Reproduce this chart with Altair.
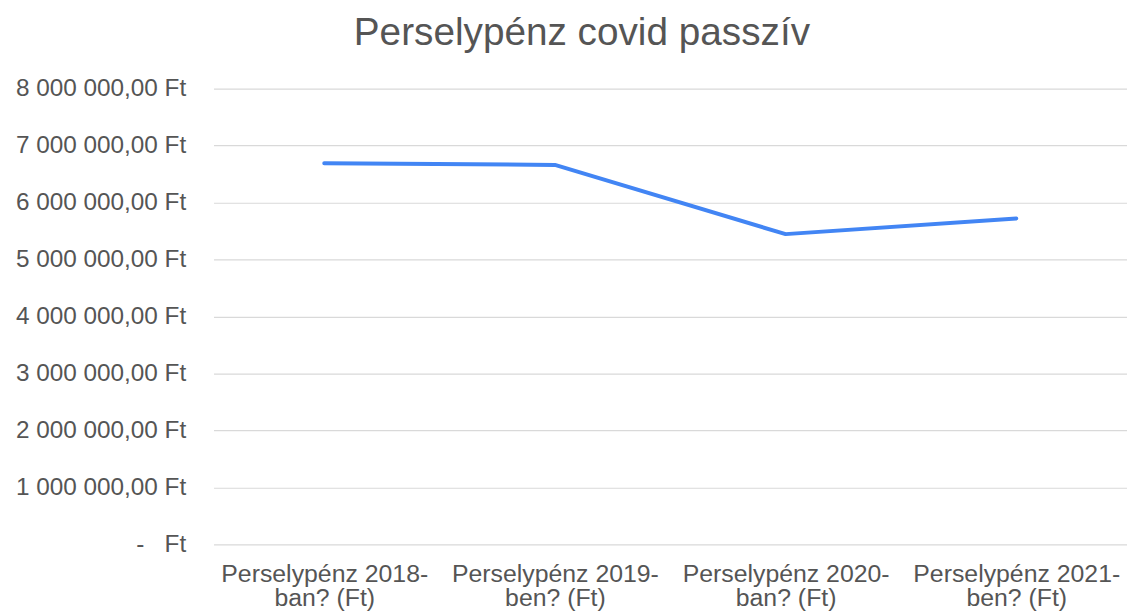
import altair as alt
import pandas as pd

# ---- data ----
categories = [
    "Perselypénz 2018-ban? (Ft)",
    "Perselypénz 2019-ben? (Ft)",
    "Perselypénz 2020-ban? (Ft)",
    "Perselypénz 2021-ben? (Ft)",
]
x_label_lines = [
    ["Perselypénz 2018-", "ban? (Ft)"],
    ["Perselypénz 2019-", "ben? (Ft)"],
    ["Perselypénz 2020-", "ban? (Ft)"],
    ["Perselypénz 2021-", "ben? (Ft)"],
]
values = [6690000, 6660000, 5445000, 5720000]

y_ticks = [0, 1000000, 2000000, 3000000, 4000000, 5000000, 6000000, 7000000, 8000000]
y_tick_labels = [
    "-\u00a0\u00a0\u00a0Ft",
    "1 000 000,00 Ft",
    "2 000 000,00 Ft",
    "3 000 000,00 Ft",
    "4 000 000,00 Ft",
    "5 000 000,00 Ft",
    "6 000 000,00 Ft",
    "7 000 000,00 Ft",
    "8 000 000,00 Ft",
]

title_text = "Perselypénz covid passzív"

df = pd.DataFrame({"cat": categories, "value": values})

# label expressions built from the lists
y_expr = "".join(
    f"datum.value == {v} ? '{lab}' : " for v, lab in zip(y_ticks, y_tick_labels)
) + "''"
x_expr = "".join(
    f"datum.label == '{c}' ? ['{a}', '{b}'] : " for c, (a, b) in zip(categories, x_label_lines)
) + "datum.label"

FONT = "Liberation Sans"
TXT = "#555555"
W, H = 920, 459

chart = (
    alt.Chart(df)
    .mark_line(color="#4285F4", strokeWidth=4, strokeCap="round", strokeJoin="round")
    .encode(
        x=alt.X(
            "cat:N",
            sort=categories,
            scale=alt.Scale(type="point", padding=0.48),
            axis=alt.Axis(
                title=None,
                labelExpr=x_expr,
                labelAngle=0,
                labelFont=FONT,
                labelFontSize=25,
                labelLineHeight=25,
                labelColor=TXT,
                labelPadding=17,
                labelLimit=400,
                labelOverlap=False,
                ticks=False,
                domain=False,
                grid=False,
                labelAlign="center",
            ),
        ),
        y=alt.Y(
            "value:Q",
            scale=alt.Scale(domain=[0, 8000000], nice=False, zero=True),
            axis=alt.Axis(
                title=None,
                values=y_ticks,
                labelExpr=y_expr,
                labelFont=FONT,
                labelFontSize=24.5,
                labelColor=TXT,
                labelPadding=28,
                labelLimit=400,
                ticks=False,
                domain=False,
                grid=True,
                gridColor="#d9d9d9",
                gridWidth=1.2,
            ),
        ),
    )
    .properties(
        width=W,
        height=H,
        autosize=alt.AutoSizeParams(type="none"),
        padding={"left": 207, "top": 79, "right": 0, "bottom": 66},
        title=alt.TitleParams(
            text=title_text,
            font=FONT,
            fontSize=39,
            fontWeight="normal",
            color=TXT,
            anchor="middle",
            dx=-89,
            offset=23,
        ),
    )
    .configure(background="white")
    .configure_view(stroke=None)
)

chart.save("out.html", embed_options={"renderer": "svg", "actions": False})
